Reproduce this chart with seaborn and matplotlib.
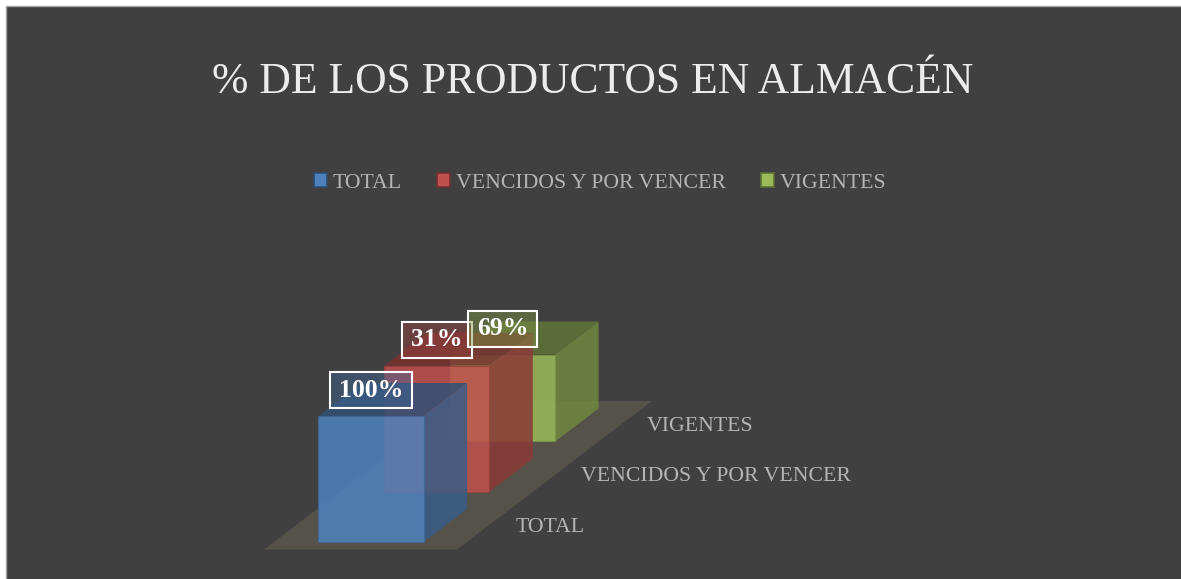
import matplotlib
matplotlib.use("Agg")
import matplotlib.pyplot as plt
from matplotlib.patches import Polygon, Rectangle, Patch
from matplotlib.path import Path
import seaborn as sns
import pandas as pd

categories = ["TOTAL", "VENCIDOS Y POR VENCER", "VIGENTES"]
drawn_heights = [100, 100, 69]
value_labels = ["100%", "31%", "69%"]
colors = ["#4f81bd", "#c0504d", "#9bbb59"]
chart_title = "% DE LOS PRODUCTOS EN ALMACÉN"

sns.set_theme(style="white")
SERIF = ["Liberation Serif", "DejaVu Serif"]
plt.rcParams["font.family"] = SERIF

W, H = 1181, 579
BG = "#404040"
PX_X = 65.75   # px per category step
PX_Y = 1.26    # px per value unit
X0, Y0 = 371.0, 542.0
STEP = 39.9    # value units the baseline rises per category
DX, DY = 43.5 / PX_X, 33 / PX_Y

fig = plt.figure(figsize=(W / 100, H / 100), dpi=100, facecolor="white")
fig.patches.append(Rectangle((5.5 / W, -0.01), 1.01, 1 - 5.5 / H + 0.01, transform=fig.transFigure,
                             fc=BG, ec="#a6a6a6", lw=1.0, zorder=-5))
ax = fig.add_axes([0, 0, 1, 1])
ax.patch.set_alpha(0)

df = pd.DataFrame({"cat": categories, "h": drawn_heights})
sns.barplot(data=df, x="cat", y="h", hue="cat", palette=colors, dodge=False, width=1.6,
            legend=False, ax=ax, saturation=1, errorbar=None)
ax.set_xlim(-X0 / PX_X, (W - X0) / PX_X)
ax.set_ylim(-(H - Y0) / PX_Y, Y0 / PX_Y)
ax.axis("off")

# floor
fx0 = (264 - X0) / PX_X
fx1 = (457 - X0) / PX_X
fy0 = (Y0 - 549.5) / PX_Y
fy1 = (Y0 - 401) / PX_Y
shift = (195 / PX_X)
ax.add_patch(Polygon([(fx0, fy0), (fx1, fy0), (fx1 + shift, fy1), (fx0 + shift, fy1)],
                     closed=True, fc="#55524a", ec="none", zorder=1))


def shade(c, f):
    r, g, b = matplotlib.colors.to_rgb(c)
    return (r * f, g * f, b * f)


def label_box(x0, y0, width, height, mutation_size):
    """Rectangle with separate horizontal and vertical padding, in pixels."""
    px, py = 9.0, 6.5
    x, y = x0 - px, y0 - py
    w, h = width + 2 * px, height + 2 * py
    return Path([(x, y), (x + w, y), (x + w, y + h), (x, y + h), (x, y)], closed=True)


for i, (p, c) in enumerate(zip(ax.patches[:3], colors)):
    z = 10 - 2 * i
    base = i * STEP
    p.set_y(base)
    x, w, h = p.get_x(), p.get_width(), p.get_height()
    p.set_zorder(z + 0.5)
    p.set_alpha(0.86)
    p.set_edgecolor(shade(c, 0.8))
    p.set_linewidth(0.8)
    x1, top = x + w, base + h
    ax.add_patch(Polygon([(x1, base), (x1 + DX, base + DY), (x1 + DX, top + DY), (x1, top)],
                         fc=shade(c, 0.72), ec="none", alpha=0.86, zorder=z))
    ax.add_patch(Polygon([(x, top), (x1, top), (x1 + DX, top + DY), (x + DX, top + DY)],
                         fc=shade(c, 0.62), ec="none", alpha=0.86, zorder=z + 0.2))
    ax.text(i + 2.2, base + (542 - 527) / PX_Y - (i - 0.5) * 0.0, categories[i], color="#b5b5b5", fontsize=15.7,
            va="center", ha="left", zorder=20)
    ax.annotate(value_labels[i], (i, top), xytext=(0, 18.6), textcoords="offset points",
                ha="center", va="center", color="white", fontsize=18.5, fontweight="bold", zorder=30,
                bbox=dict(boxstyle=label_box, fc=(*shade(c, 0.8), 0.45), ec="white", lw=1.5))

handles = [Patch(fc=c, ec=shade(c, 0.6), lw=1.2, label=n) for c, n in zip(colors, categories)]
ax.legend(handles=handles, ncol=3, loc="center", bbox_to_anchor=(600 / W, 1 - 183 / H),
          bbox_transform=fig.transFigure, frameon=False, fontsize=15.7, labelcolor="#b5b5b5",
          handlelength=0.6, handleheight=0.6, handletextpad=0.28, columnspacing=1.6, borderpad=0)

fig.text(593 / W, 1 - 93 / H, chart_title, color="#ececec", fontsize=31.4, ha="center", va="baseline")

fig.savefig("out.png", dpi=100, facecolor="white")
